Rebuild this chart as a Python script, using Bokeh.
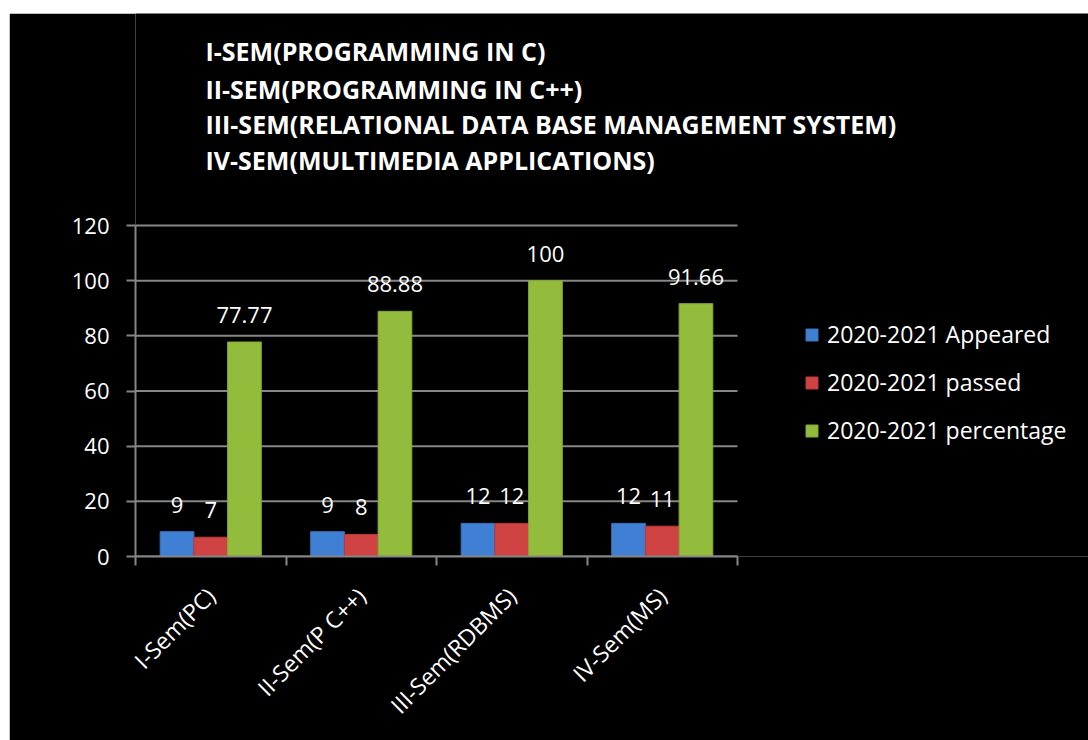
import math
from bokeh.plotting import figure
from bokeh.models import (ColumnDataSource, Range1d, FixedTicker, Label, Legend, LegendItem, Spacer)
from bokeh.transform import dodge
from bokeh.layouts import column, row
from bokeh.core.properties import value
from bokeh.embed import file_html
from bokeh.resources import INLINE

categories = ["I-Sem(PC)", "II-Sem(P C++)", "III-Sem(RDBMS)", "IV-Sem(MS)"]
appeared = [9, 9, 12, 12]
passed = [7, 8, 12, 11]
percentage = [77.77, 88.88, 100, 91.66]
appeared_lbl = ["9", "9", "12", "12"]
passed_lbl = ["7", "8", "12", "11"]
percentage_lbl = ["77.77", "88.88", "100", "91.66"]
series_names = ["2020-2021 Appeared", "2020-2021 passed", "2020-2021 percentage"]
y_ticks = [0, 20, 40, 60, 80, 100, 120]
title_lines = [
    "I-SEM(PROGRAMMING IN C)",
    "II-SEM(PROGRAMMING IN C++)",
    "III-SEM(RELATIONAL DATA BASE MANAGEMENT SYSTEM)",
    "IV-SEM(MULTIMEDIA APPLICATIONS)",
]

FONT = "Open Sans"
GRID = "#868686"
colors = ["#3f80d4", "#cf4343", "#93bb3c"]
edge = ["#3a74c0", "#b83a3a", "#84a836"]

# geometry (pixels)
W, H = 1079, 727
LEFT, BOTTOM = 126, 184
PX_X = 150.5            # pixels per category
PX_Y = 331 / 120.0      # pixels per value unit
n = len(categories)
ymax = max(y_ticks)
x_end = (W - LEFT) / PX_X
y_end = (H - BOTTOM) / PX_Y

centers = [i + 0.5 for i in range(n)]
src = ColumnDataSource(dict(x=centers, appeared=appeared, passed=passed, percentage=percentage,
                            a_l=appeared_lbl, p_l=passed_lbl, g_l=percentage_lbl))

p = figure(width=W, height=H, output_backend="svg", toolbar_location=None,
           x_range=Range1d(0, x_end), y_range=Range1d(0, y_end),
           min_border_left=LEFT, min_border_right=0, min_border_top=0, min_border_bottom=BOTTOM,
           background_fill_color="black", border_fill_color="black", outline_line_color=None)
p.xgrid.visible = False
p.ygrid.visible = False

# horizontal gridlines only across the category area
p.segment(x0=[0] * len(y_ticks), x1=[n] * len(y_ticks), y0=y_ticks, y1=y_ticks,
          line_color=GRID, line_width=2)

bw = 0.224
offs = [-bw, 0.0, bw]
fields = ["appeared", "passed", "percentage"]
lbls = ["a_l", "p_l", "g_l"]
renderers = []
for f, o, c, e, l in zip(fields, offs, colors, edge, lbls):
    r = p.vbar(x=dodge("x", o, range=p.x_range), top=f, width=bw, source=src,
               fill_color=c, line_color=e, line_width=1)
    renderers.append(r)
    p.text(x=dodge("x", o, range=p.x_range), y=f, text=l, source=src,
           text_align="center", text_baseline="alphabetic", y_offset=-27,
           text_color="white", text_font=value(FONT), text_font_size="22px")

ya = p.yaxis[0]
ya.ticker = FixedTicker(ticks=y_ticks)
ya.bounds = (0, ymax)
ya.axis_line_color = GRID
ya.axis_line_width = 2
ya.major_tick_line_color = GRID
ya.major_tick_line_width = 2
ya.major_tick_out = 9
ya.major_tick_in = 0
ya.minor_tick_line_color = None
ya.major_label_standoff = 17
ya.major_label_text_color = "white"
ya.major_label_text_font = FONT
ya.major_label_text_font_size = "22px"

xa = p.xaxis[0]
xa.ticker = FixedTicker(ticks=centers, minor_ticks=list(range(n + 1)))
xa.bounds = (0, n)
xa.major_label_overrides = {c: name for c, name in zip(centers, categories)}
xa.axis_line_color = GRID
xa.axis_line_width = 2
xa.major_tick_line_color = None
xa.major_tick_out = 0
xa.major_tick_in = 0
xa.minor_tick_line_color = GRID
xa.minor_tick_line_width = 2
xa.minor_tick_out = 9
xa.minor_tick_in = 0
xa.major_label_orientation = math.pi / 4
xa.major_label_standoff = 26
xa.major_label_text_color = "white"
xa.major_label_text_font = FONT
xa.major_label_text_font_size = "23px"

# title lines (screen units relative to the plot frame's bottom-left)
frame_bottom_page = 556
baselines = [50, 88, 123, 159]
for t, b in zip(title_lines, baselines):
    p.add_layout(Label(x=70, y=frame_bottom_page - b, x_units="screen", y_units="screen", text=t,
                       text_color="white", text_font=FONT, text_font_style="bold",
                       text_font_size="25px", text_baseline="alphabetic"))

legend = Legend(items=[LegendItem(label=nm, renderers=[r]) for nm, r in zip(series_names, renderers)],
                location=(669, 110), orientation="vertical",
                glyph_width=15, glyph_height=15, label_standoff=8, spacing=16,
                padding=0, margin=0, border_line_color=None, background_fill_alpha=0,
                label_text_color="white", label_text_font=FONT, label_text_font_size="23px")
p.add_layout(legend, "center")

layout = row(Spacer(width=9, height=740), column(Spacer(width=W, height=13), p))
open("out.html", "w").write(file_html(layout, INLINE))
